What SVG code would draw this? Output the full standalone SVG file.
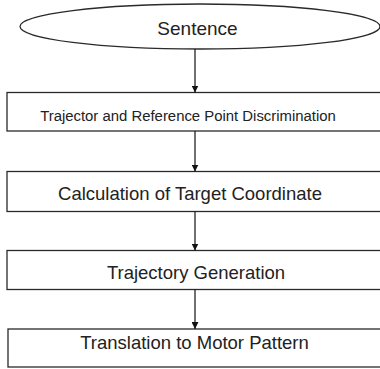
<svg xmlns="http://www.w3.org/2000/svg" width="380" height="369" viewBox="0 0 380 369">
<style>
.shape{fill:#fff;stroke:#2a2a2a;stroke-width:1.3}
.lbl{font-family:"Liberation Sans",Arial,sans-serif;fill:#222;text-anchor:middle}
.big{font-size:18.5px}
.small{font-size:14.9px}
.conn{stroke:#111;stroke-width:1.2;fill:none}
</style>
<defs>
<marker id="ah" viewBox="0 0 10 10" refX="10" refY="5" markerWidth="7" markerHeight="7" markerUnits="userSpaceOnUse" orient="auto">
<path d="M0,0 L10,5 L0,10 Z" fill="#111"/>
</marker>
</defs>
<rect width="380" height="369" fill="#fff"/>
<g id="sentence">
<ellipse class="shape" cx="200" cy="26.5" rx="180" ry="22.5"/>
<text class="lbl" x="197.5" y="35" font-size="19">Sentence</text>
</g>
<g id="discrimination">
<rect class="shape" x="7" y="92.5" width="380" height="38.5"/>
<text class="lbl small" x="188" y="120.5">Trajector and Reference Point Discrimination</text>
</g>
<g id="calculation">
<rect class="shape" x="7" y="171.5" width="380" height="40"/>
<text class="lbl big" x="190" y="200">Calculation of Target Coordinate</text>
</g>
<g id="generation">
<rect class="shape" x="7" y="250.5" width="380" height="39"/>
<text class="lbl big" x="196" y="278.5">Trajectory Generation</text>
</g>
<g id="translation">
<rect class="shape" x="8" y="329" width="380" height="38"/>
<text class="lbl big" x="194.5" y="348.5">Translation to Motor Pattern</text>
</g>
<g id="connectors">
<line class="conn" x1="195" y1="49" x2="195" y2="92.5" marker-end="url(#ah)"/>
<line class="conn" x1="195" y1="131" x2="195" y2="171.5" marker-end="url(#ah)"/>
<line class="conn" x1="195" y1="211.5" x2="195" y2="250.5" marker-end="url(#ah)"/>
<line class="conn" x1="195" y1="289.5" x2="195" y2="329" marker-end="url(#ah)"/>
</g>
</svg>
